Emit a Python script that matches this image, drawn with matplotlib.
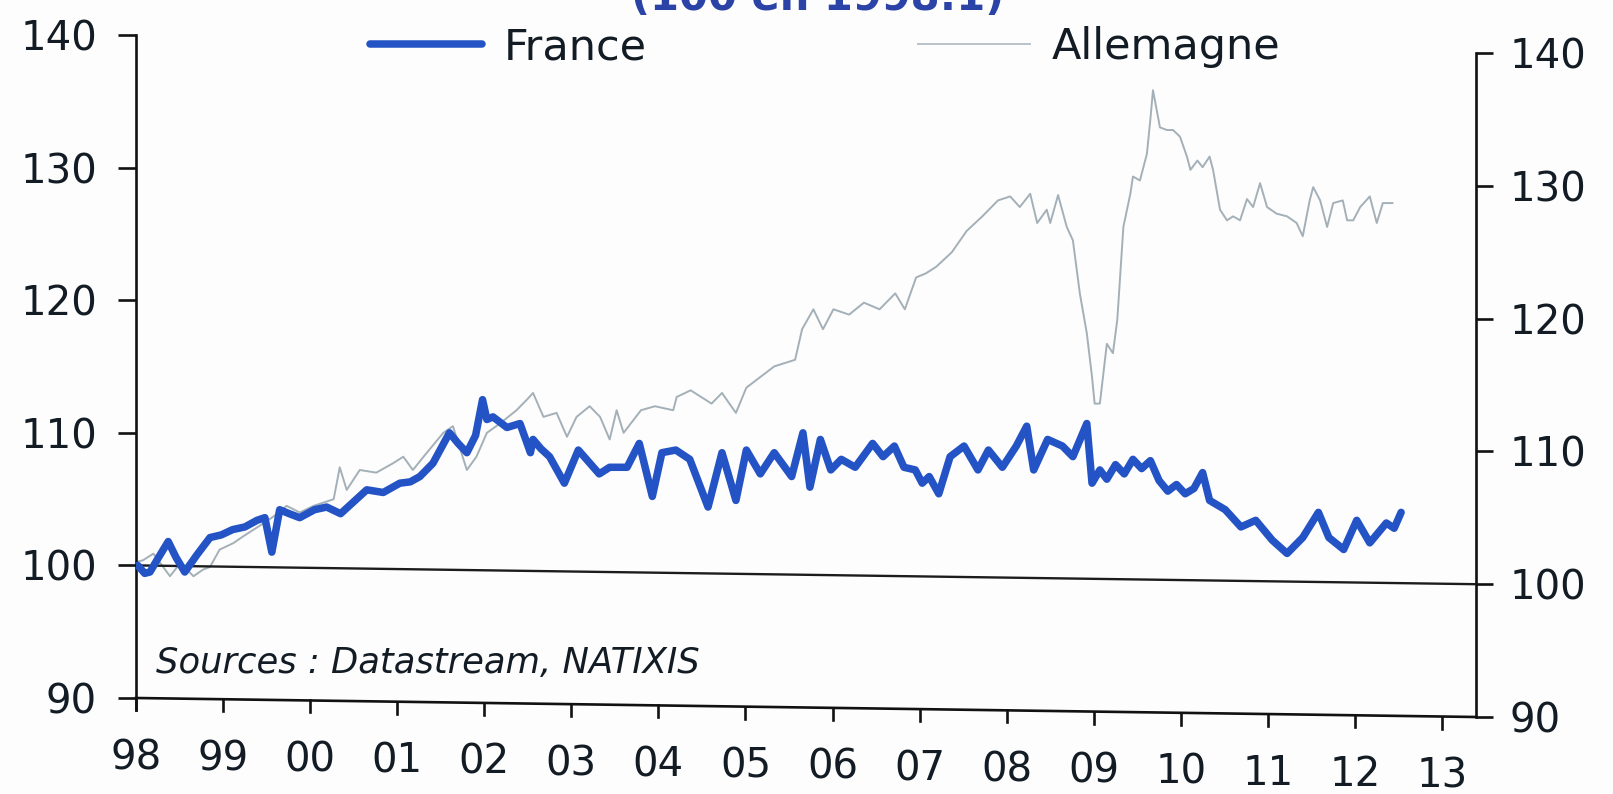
import numpy as np
import matplotlib
matplotlib.use("Agg")
import matplotlib.pyplot as plt
from matplotlib.lines import Line2D
import matplotlib.transforms as mtransforms

plt.rcParams['font.family'] = ['DejaVu Sans']

# ---------------- data ----------------
france_t = [1998.02, 1998.10, 1998.16, 1998.25, 1998.37, 1998.46, 1998.56, 1998.70, 1998.85, 1998.98,
            1999.11, 1999.25, 1999.39, 1999.48, 1999.56, 1999.65, 1999.76, 1999.88, 2000.05, 2000.19,
            2000.35, 2000.50, 2000.65, 2000.84, 2001.03, 2001.15, 2001.26, 2001.41, 2001.60, 2001.70,
            2001.80, 2001.90, 2001.98, 2002.03, 2002.10, 2002.26, 2002.41, 2002.53, 2002.56, 2002.65,
            2002.75, 2002.92, 2003.08, 2003.32, 2003.44, 2003.64, 2003.78, 2003.93, 2004.04, 2004.20,
            2004.36, 2004.57, 2004.73, 2004.89, 2005.01, 2005.17, 2005.33, 2005.53, 2005.66, 2005.74,
            2005.86, 2005.98, 2006.10, 2006.26, 2006.46, 2006.58, 2006.71, 2006.82, 2006.95, 2007.03,
            2007.11, 2007.22, 2007.35, 2007.51, 2007.67, 2007.79, 2007.95, 2008.11, 2008.23, 2008.31,
            2008.47, 2008.64, 2008.76, 2008.92, 2008.98, 2009.07, 2009.15, 2009.25, 2009.35, 2009.45,
            2009.55, 2009.65, 2009.75, 2009.85, 2009.95, 2010.05, 2010.15, 2010.25, 2010.33, 2010.51,
            2010.69, 2010.86, 2011.05, 2011.22, 2011.40, 2011.58, 2011.70, 2011.87, 2012.02, 2012.17,
            2012.36, 2012.45, 2012.53]
france_v = [100.0, 99.4, 99.5, 100.5, 101.8, 100.6, 99.5, 100.8, 102.1, 102.3,
            102.7, 102.9, 103.4, 103.6, 101.0, 104.2, 103.9, 103.6, 104.2, 104.4,
            103.9, 104.8, 105.7, 105.5, 106.2, 106.3, 106.7, 107.7, 110.0, 109.2,
            108.5, 109.8, 112.5, 111.0, 111.2, 110.4, 110.7, 108.5, 109.5, 108.8,
            108.2, 106.2, 108.7, 106.9, 107.4, 107.4, 109.2, 105.2, 108.5, 108.7,
            108.0, 104.4, 108.5, 104.9, 108.7, 106.9, 108.5, 106.7, 110.0, 105.9,
            109.5, 107.2, 108.0, 107.4, 109.2, 108.2, 109.0, 107.4, 107.2, 106.2,
            106.7, 105.4, 108.2, 109.0, 107.2, 108.7, 107.4, 109.0, 110.5, 107.2,
            109.5, 109.0, 108.2, 110.7, 106.2, 107.2, 106.5, 107.6, 106.9, 108.0,
            107.3, 107.9, 106.4, 105.6, 106.1, 105.4, 105.8, 107.0, 104.9, 104.2,
            102.9, 103.4, 101.9, 100.9, 102.1, 104.0, 102.1, 101.2, 103.4, 101.7,
            103.2, 102.8, 104.0]

allem_t = [1998.02, 1998.08, 1998.20, 1998.39, 1998.51, 1998.66, 1998.77, 1998.85, 1998.96, 1999.12,
           1999.23, 1999.42, 1999.58, 1999.73, 1999.88, 2000.04, 2000.27, 2000.34, 2000.42, 2000.57,
           2000.76, 2000.95, 2001.07, 2001.18, 2001.34, 2001.53, 2001.64, 2001.80, 2001.91, 2002.03,
           2002.18, 2002.37, 2002.49, 2002.56, 2002.68, 2002.83, 2002.95, 2003.06, 2003.21, 2003.33,
           2003.44, 2003.52, 2003.60, 2003.80, 2003.96, 2004.17, 2004.21, 2004.37, 2004.49, 2004.61,
           2004.73, 2004.89, 2005.01, 2005.17, 2005.33, 2005.57, 2005.65, 2005.78, 2005.89, 2006.01,
           2006.19, 2006.36, 2006.54, 2006.72, 2006.83, 2006.96, 2007.07, 2007.19, 2007.37, 2007.54,
           2007.72, 2007.90, 2008.04, 2008.15, 2008.27, 2008.35, 2008.46, 2008.50, 2008.59, 2008.69,
           2008.76, 2008.84, 2008.92, 2008.98, 2009.01, 2009.07, 2009.15, 2009.22, 2009.27, 2009.34,
           2009.42, 2009.45, 2009.53, 2009.61, 2009.65, 2009.68, 2009.76, 2009.84, 2009.91, 2009.99,
           2010.07, 2010.11, 2010.19, 2010.25, 2010.33, 2010.37, 2010.45, 2010.53, 2010.60, 2010.68,
           2010.76, 2010.83, 2010.91, 2010.99, 2011.10, 2011.22, 2011.33, 2011.40, 2011.48, 2011.52,
           2011.60, 2011.68, 2011.75, 2011.86, 2011.91, 2011.98, 2012.06, 2012.17, 2012.25, 2012.32,
           2012.43]
allem_v = [101.7, 101.8, 102.3, 100.6, 101.6, 100.6, 101.1, 101.3, 102.6, 103.1,
           103.6, 104.4, 105.1, 105.9, 105.4, 105.9, 106.4, 108.8, 107.1, 108.6,
           108.4, 109.1, 109.6, 108.6, 109.9, 111.4, 111.9, 108.6, 109.6, 111.4,
           112.1, 113.1, 113.9, 114.4, 112.6, 112.9, 111.1, 112.6, 113.4, 112.6,
           110.9, 113.1, 111.4, 113.1, 113.4, 113.1, 114.1, 114.6, 114.1, 113.6,
           114.4, 112.9, 114.8, 115.6, 116.4, 116.9, 119.2, 120.7, 119.2, 120.7,
           120.3, 121.2, 120.7, 121.9, 120.7, 123.1, 123.4, 123.9, 125.0, 126.6,
           127.7, 128.9, 129.2, 128.4, 129.4, 127.2, 128.2, 127.2, 129.3, 126.9,
           125.9, 121.9, 118.9, 115.6, 113.6, 113.6, 118.1, 117.4, 119.9, 126.9,
           129.4, 130.7, 130.4, 132.4, 135.0, 137.2, 134.4, 134.2, 134.2, 133.7,
           132.2, 131.2, 131.9, 131.4, 132.2, 131.2, 128.2, 127.4, 127.7, 127.4,
           129.0, 128.4, 130.2, 128.4, 127.9, 127.7, 127.2, 126.2, 128.9, 129.9,
           128.9, 126.9, 128.7, 128.9, 127.4, 127.4, 128.4, 129.2, 127.2, 128.7,
           128.7]

year_ticks = list(range(1998, 2014))
year_labels = ['98', '99', '00', '01', '02', '03', '04', '05', '06', '07',
               '08', '09', '10', '11', '12', '13']
left_ticks = [90, 100, 110, 120, 130, 140]
right_ticks = [90, 100, 110, 120, 130, 140]
series_names = ['France', 'Allemagne']
title_text = '(100 en 1998:1)'
source_text = 'Sources : Datastream, NATIXIS'

# ---------------- styling ----------------
W, H = 1613, 794
BLUE = '#2353c4'
GREY = '#a4b0b8'
TXT = '#131c24'
AXC = '#111111'

fig = plt.figure(figsize=(W / 100, H / 100), dpi=100)
fig.patch.set_facecolor('#fdfdfd')

ax = fig.add_axes([136 / W, 1 - 717 / H, 1340 / W, 682 / H])
ax2 = ax.twinx()
ax.set_zorder(2)
ax.patch.set_visible(False)
ax2.patch.set_visible(False)

xmin, xmax = 1998.0, 1998.0 + 1340 / 87.07
ax.set_xlim(xmin, xmax)
left_scale = (698 - 35) / 50.0
right_scale = (717 - 53) / 50.0
ax.set_ylim(90 - 19 / left_scale, 140)
ax2.set_ylim(90, 90 + 682 / right_scale)

# series
ax2.plot(allem_t, allem_v, color=GREY, lw=1.4, zorder=2, solid_joinstyle='round')
ax.plot(france_t, france_v, color=BLUE, lw=5.4, zorder=3,
        solid_joinstyle='round', solid_capstyle='round')

# spines
for s in ['top', 'right', 'bottom']:
    ax.spines[s].set_visible(False)
for s in ['top', 'left', 'bottom']:
    ax2.spines[s].set_visible(False)
ax.spines['left'].set_bounds(89.1, 140)
ax.spines['left'].set_linewidth(1.9)
ax.spines['left'].set_color(AXC)
ax2.spines['right'].set_bounds(90, 140)
ax2.spines['right'].set_linewidth(1.9)
ax2.spines['right'].set_color(AXC)

ax.set_yticks(left_ticks)
ax.set_yticklabels([str(v) for v in left_ticks])
ax.tick_params(axis='y', direction='out', length=13, width=1.9, pad=15,
               labelsize=29, labelcolor=TXT, color=AXC)
ax2.set_yticks(right_ticks)
ax2.set_yticklabels([str(v) for v in right_ticks])
ax2.tick_params(axis='y', direction='out', length=12, width=1.9, pad=12,
                labelsize=29, labelcolor=TXT, color=AXC)
ax.tick_params(axis='x', bottom=False, labelbottom=False)
ax2.tick_params(axis='x', bottom=False, labelbottom=False)

# slightly tilted category axis (scan skew)
frac_left = (717 - 698) / 682.0
trans = mtransforms.blended_transform_factory(ax.transData, ax.transAxes)
ax.plot([xmin, xmax], [frac_left, 0], transform=trans, color=AXC, lw=1.9,
        clip_on=False, zorder=4)
for yr, lab in zip(year_ticks, year_labels):
    f = (yr - xmin) / (xmax - xmin)
    y0 = frac_left * (1 - f)
    ax.plot([yr, yr], [y0, y0 - 12 / 682.0], transform=trans, color=AXC, lw=1.9,
            clip_on=False, zorder=4)
    ax.text(yr, y0 - 60 / 682.0, lab, transform=trans, ha='center', va='center',
            fontsize=29, color=TXT)

# reference line at 100 (left axis 100 -> right axis 100)
y_lo0 = ax.get_ylim()[0]
fl = (100 - y_lo0) / (140 - y_lo0)
fr = (100 - 90) / (ax2.get_ylim()[1] - 90)
ax.plot([0, 1], [fl, fr], transform=ax.transAxes, color='#1c1c1c', lw=1.7, zorder=1.5)

# legend
handles = [Line2D([], [], color=BLUE, lw=5.4, solid_capstyle='round'),
           Line2D([], [], color='#b9c2c8', lw=1.4)]
fig.legend(handles=handles, labels=series_names, loc='center left',
           bbox_to_anchor=(370 / W, 1 - 47 / H), bbox_transform=fig.transFigure,
           ncol=2, frameon=False, fontsize=31, handlelength=2.6, handletextpad=0.5,
           columnspacing=6.3, borderpad=0, borderaxespad=0, labelcolor=TXT)

# clipped title at the very top
fig.text(818 / W, 1 - 10 / H, title_text, ha='center', va='baseline',
         fontsize=30, fontweight='bold', color='#2b43a6')

# source note
fig.text(156 / W, 1 - 663 / H, source_text, ha='left', va='center',
         fontsize=25.5, style='italic', color=TXT)

fig.savefig('out.png', dpi=100, facecolor=fig.get_facecolor())
